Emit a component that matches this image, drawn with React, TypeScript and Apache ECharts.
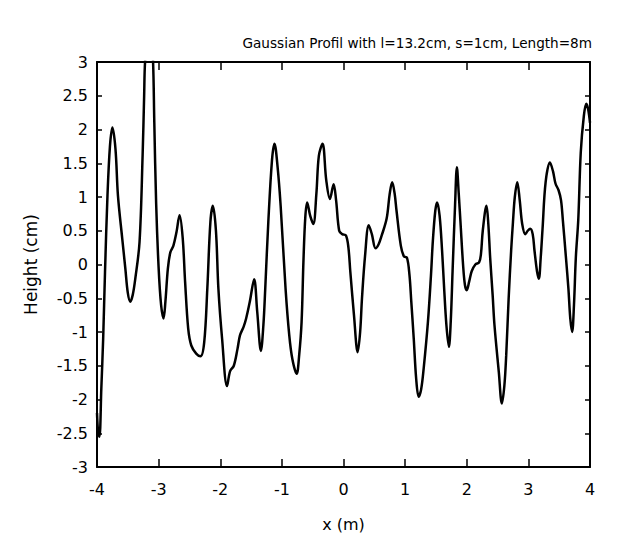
import React, { useEffect, useRef } from "react";
import * as echarts from "echarts";

const xValues = [
  -4.0, -3.98, -3.96, -3.93, -3.9, -3.87, -3.83, -3.79, -3.75, -3.7, -3.66, -3.59, -3.54, -3.5, -3.46, -3.42, -3.38, -3.31,
  -3.26, -3.235, -3.22, -3.17, -3.12, -3.09, -3.07, -3.04, -3.0, -2.96, -2.92, -2.89, -2.85, -2.81, -2.76, -2.71, -2.66,
  -2.61, -2.57, -2.52, -2.47, -2.39, -2.32, -2.26, -2.21, -2.16, -2.12, -2.07, -2.03, -1.97, -1.89, -1.84, -1.78, -1.72,
  -1.68, -1.62, -1.58, -1.52, -1.45, -1.4, -1.34, -1.3, -1.27, -1.22, -1.16, -1.12, -1.07, -1.02, -0.94, -0.88, -0.83,
  -0.76, -0.72, -0.68, -0.65, -0.62, -0.59, -0.54, -0.49, -0.44, -0.4, -0.34, -0.28, -0.22, -0.16, -0.12, -0.07, -0.02,
  0.04, 0.08, 0.11, 0.17, 0.23, 0.27, 0.3, 0.35, 0.41, 0.46, 0.52, 0.57, 0.62, 0.7, 0.75, 0.79, 0.83, 0.86, 0.93, 0.98,
  1.03, 1.07, 1.1, 1.14, 1.18, 1.22, 1.26, 1.3, 1.37, 1.42, 1.45, 1.49, 1.52, 1.56, 1.6, 1.63, 1.67, 1.71, 1.74, 1.77,
  1.81, 1.84, 1.87, 1.9, 1.94, 1.97, 2.0, 2.04, 2.08, 2.14, 2.2, 2.23, 2.26, 2.32, 2.35, 2.38, 2.42, 2.45, 2.52, 2.57,
  2.61, 2.64, 2.68, 2.72, 2.75, 2.78, 2.82, 2.86, 2.9, 2.95, 2.99, 3.03, 3.07, 3.1, 3.14, 3.17, 3.2, 3.23, 3.28, 3.35,
  3.4, 3.44, 3.49, 3.53, 3.56, 3.61, 3.65, 3.68, 3.71, 3.74, 3.77, 3.81, 3.85, 3.9, 3.94, 3.97, 4.0,
];

const heightValues = [
  -2.2, -2.5, -2.55, -1.84, -1.1, -0.11, 1.02, 1.75, 2.03, 1.71, 1.02, 0.38, -0.06, -0.42, -0.55, -0.45, -0.22, 0.33,
  1.61, 2.5, 3.0, 3.5, 3.4, 3.0, 2.1, 0.9, -0.05, -0.6, -0.8, -0.55, -0.06, 0.18, 0.28, 0.48, 0.73,
  0.4, -0.26, -0.95, -1.2, -1.32, -1.36, -1.15, -0.36, 0.63, 0.87, 0.5, -0.36, -1.1, -1.8, -1.58, -1.5, -1.25,
  -1.05, -0.92, -0.8, -0.55, -0.22, -0.7, -1.28, -0.9, -0.36, 0.63, 1.55, 1.79, 1.45, 0.87, -0.36, -1.05, -1.4,
  -1.62, -1.35, -0.85, 0.05, 0.7, 0.92, 0.72, 0.6, 1.05, 1.61, 1.79, 1.25, 0.97, 1.19, 0.95, 0.5, 0.45,
  0.43, 0.25, -0.1, -0.75, -1.3, -1.0, -0.5, 0.13, 0.58, 0.45, 0.24, 0.3, 0.43, 0.68, 1.05, 1.22, 1.05, 0.8, 0.28, 0.12,
  0.1, -0.15, -0.55, -1.1, -1.7, -1.96, -1.85, -1.55, -0.85, -0.15, 0.35, 0.8, 0.92, 0.72, 0.2, -0.3, -0.9, -1.22, -0.85, -0.1,
  0.87, 1.44, 1.05, 0.6, 0.0, -0.3, -0.38, -0.25, -0.1, 0.0, 0.03, 0.15, 0.5, 0.87, 0.6, 0.1, -0.45, -0.9, -1.59, -2.06,
  -1.8, -1.35, -0.5, 0.2, 0.63, 1.0, 1.22, 0.95, 0.6, 0.45, 0.5, 0.53, 0.45, 0.2, -0.1, -0.21, 0.1, 0.53, 1.22, 1.51,
  1.38, 1.2, 1.1, 0.95, 0.65, 0.1, -0.36, -0.8, -1.0, -0.6, 0.1, 0.67, 1.66, 2.2, 2.38, 2.3, 2.1,
];

const xTicks = [-4, -3, -2, -1, 0, 1, 2, 3, 4];
const yTicks = [-3, -2.5, -2, -1.5, -1, -0.5, 0, 0.5, 1, 1.5, 2, 2.5, 3];

const titleText = "Gaussian Profil with l=13.2cm, s=1cm, Length=8m";
const xName = "x (m)";
const yName = "Height (cm)";

const FONT = "DejaVu Sans";

export default function App() {
  const ref = useRef<HTMLDivElement>(null);

  useEffect(() => {
    document.body.style.margin = "0";
    if (!ref.current) return;
    const chart = echarts.init(ref.current, undefined, { renderer: "svg" });
    const points = xValues.map((x, i) => [x, heightValues[i]]);
    const axisLineStyle = { color: "#000", width: 2 };
    const baseX = {
      type: "value" as const,
      min: xTicks[0],
      max: xTicks[xTicks.length - 1],
      interval: 1,
      splitLine: { show: false },
      axisLine: { show: true, onZero: false, lineStyle: axisLineStyle },
      axisTick: { show: true, inside: true, length: 8, lineStyle: { color: "#000", width: 1.5 } },
    };
    const baseY = {
      type: "value" as const,
      min: yTicks[0],
      max: yTicks[yTicks.length - 1],
      interval: 0.5,
      splitLine: { show: false },
      axisLine: { show: true, onZero: false, lineStyle: axisLineStyle },
      axisTick: { show: true, inside: true, length: 5, lineStyle: { color: "#000", width: 1.5 } },
    };
    chart.setOption({
      animation: false,
      backgroundColor: "#fff",
      title: {
        text: titleText,
        right: 24,
        top: 31,
        textStyle: { fontFamily: FONT, fontSize: 13.6, fontWeight: "normal", color: "#000" },
      },
      grid: { left: 97, top: 62, right: 31, bottom: 75, containLabel: false },
      xAxis: [
        {
          ...baseX,
          position: "bottom",
          name: xName,
          nameLocation: "middle",
          nameGap: 49,
          nameTextStyle: { fontFamily: FONT, fontSize: 16, color: "#000" },
          axisLabel: { fontFamily: FONT, fontSize: 16, color: "#000", margin: 14 },
        },
        { ...baseX, position: "top", axisLabel: { show: false } },
      ],
      yAxis: [
        {
          ...baseY,
          position: "left",
          name: yName,
          nameLocation: "middle",
          nameGap: 58,
          nameTextStyle: { fontFamily: FONT, fontSize: 17, color: "#000" },
          axisLabel: { fontFamily: FONT, fontSize: 16, color: "#000", margin: 9 },
        },
        { ...baseY, position: "right", axisLabel: { show: false } },
      ],
      series: [
        {
          type: "line",
          data: points,
          xAxisIndex: 0,
          yAxisIndex: 0,
          smooth: 0.35,
          showSymbol: false,
          clip: true,
          lineStyle: { color: "#000", width: 2.5 },
        },
      ],
    });
    return () => chart.dispose();
  }, []);

  return <div ref={ref} style={{ width: 621, height: 542 }} />;
}
